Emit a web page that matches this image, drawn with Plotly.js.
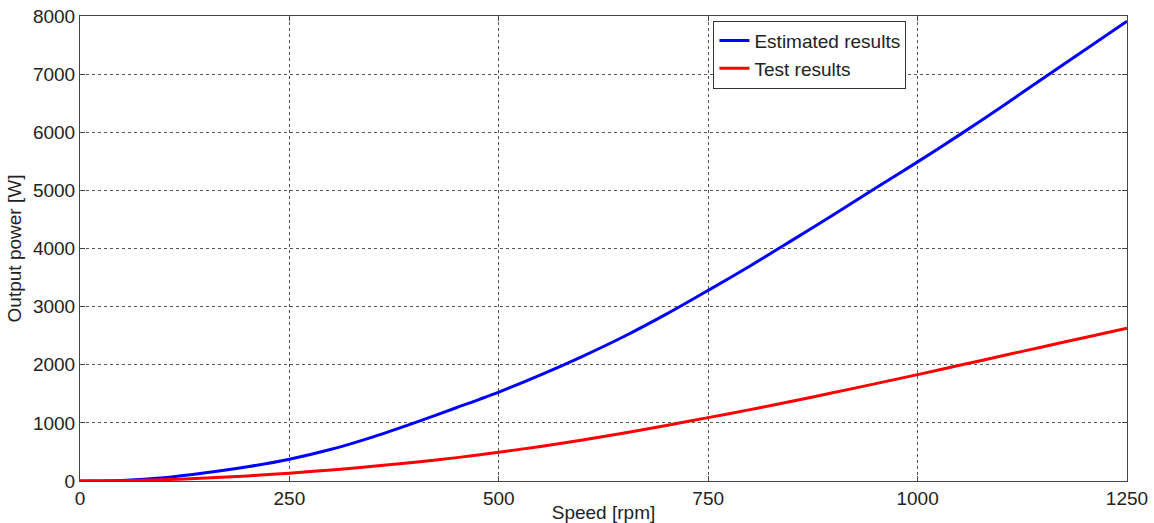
<!DOCTYPE html>
<html>
<head>
<meta charset="utf-8">
<script src="https://cdn.plot.ly/plotly-3.0.1.min.js"></script>
<style>
  html, body { margin: 0; padding: 0; background: #fff; }
  #chart { width: 1154px; height: 523px; }
</style>
</head>
<body>
<div id="chart"></div>
<script>
// Rotor speed samples [rpm]
const speed = [0, 50, 100, 150, 200, 250, 300, 350, 400, 450, 500, 550, 600, 650,
               700, 750, 800, 850, 900, 950, 1000, 1050, 1100, 1150, 1200, 1250];

// Output power from the model [W]
const estimatedPower = [0, 10, 55, 140, 245, 375, 545, 760, 1005, 1265, 1530, 1825, 2145, 2490,
                        2870, 3280, 3700, 4140, 4585, 5040, 5490, 5955, 6435, 6930, 7420, 7910];

// Output power measured on the test bench [W]
const testPower = [0, 5, 22, 50, 88, 135, 190, 252, 322, 402, 495, 595, 705, 825,
                   955, 1090, 1228, 1372, 1522, 1675, 1830, 1990, 2150, 2310, 2470, 2630];

const xTicks = [0, 250, 500, 750, 1000, 1250];
const yTicks = [0, 1000, 2000, 3000, 4000, 5000, 6000, 7000, 8000];

const font = { family: 'Liberation Sans, Arial, sans-serif', size: 19, color: '#222' };

const traces = [
  {
    x: speed, y: estimatedPower, type: 'scatter', mode: 'lines',
    name: 'Estimated results',
    line: { color: 'rgb(0,0,255)', width: 3, shape: 'spline', smoothing: 0.8 }
  },
  {
    x: speed, y: testPower, type: 'scatter', mode: 'lines',
    name: 'Test results',
    line: { color: 'rgb(255,0,0)', width: 3, shape: 'spline', smoothing: 0.8 }
  }
];

const axisCommon = {
  showline: true, linecolor: '#444', linewidth: 1, mirror: 'ticks',
  ticks: 'inside', ticklen: 5, tickcolor: '#444',
  showgrid: true, gridcolor: '#555', gridwidth: 1, griddash: 'dot',
  zeroline: false, tickfont: font
};

const layout = {
  width: 1154, height: 523,
  margin: { l: 80, r: 27, t: 16, b: 42 },
  paper_bgcolor: '#fff', plot_bgcolor: '#fff',
  font: font,
  showlegend: true,
  legend: {
    x: 0.605, y: 0.99, xanchor: 'left', yanchor: 'top',
    bgcolor: '#fff', bordercolor: '#333', borderwidth: 1,
    font: font, tracegroupgap: 0
  },
  xaxis: Object.assign({}, axisCommon, {
    range: [0, 1250], tickvals: xTicks, ticktext: xTicks.map(String),
    title: { text: 'Speed [rpm]', font: font, standoff: 0 }
  }),
  yaxis: Object.assign({}, axisCommon, {
    range: [0, 8000], tickvals: yTicks, ticktext: yTicks.map(String),
    title: { text: 'Output power [W]', font: font, standoff: 6 }
  })
};

Plotly.newPlot('chart', traces, layout, { staticPlot: true, displayModeBar: false });
</script>
</body>
</html>
